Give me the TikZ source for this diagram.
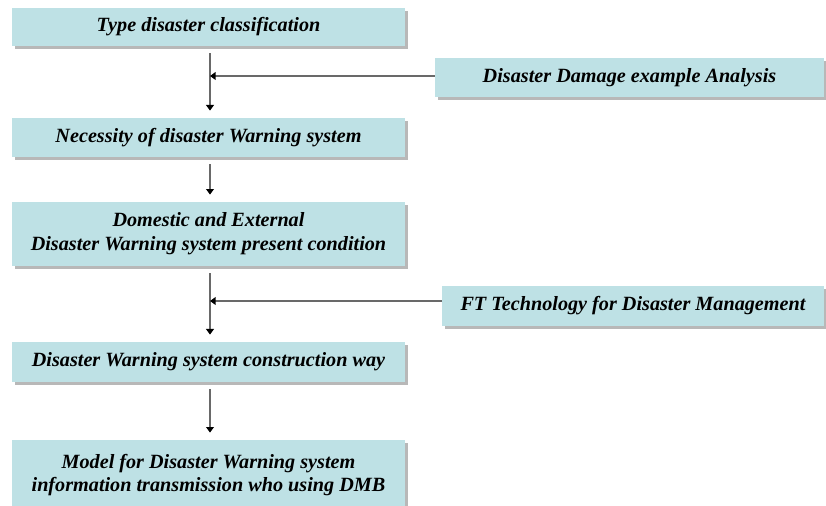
\documentclass[tikz,border=0pt]{standalone}
\usepackage{fontspec}
\setmainfont{Liberation Serif}
\usetikzlibrary{arrows.meta}
\usetikzlibrary{shadows}
\definecolor{boxfill}{RGB}{190,225,229}
\definecolor{linegray}{RGB}{105,105,105}

\begin{document}
\begin{tikzpicture}[x=0.02cm,y=-0.02cm,
                stepbox/.style={rectangle,fill=boxfill,inner sep=0pt,align=center,
                    font=\fontsize{11.5}{13.5}\selectfont\bfseries\itshape,
                    drop shadow={shadow xshift=1.8pt,shadow yshift=-1.8pt,fill=black!28,opacity=1}},
                link/.style={line width=1.1pt,linegray,-{Triangle[length=3.2pt,width=4.4pt,black]}}
                ]
            \useasboundingbox (0,0) rectangle (826,506);
            \clip (0,0) rectangle (826,506);

            \node[stepbox,minimum width=7.86cm,minimum height=0.76cm] (type) at (208.5,27) {Type disaster classification};
            \node[stepbox,minimum width=7.78cm,minimum height=0.78cm] (damage) at (629.5,77.5) {Disaster Damage example Analysis};
            \node[stepbox,minimum width=7.86cm,minimum height=0.78cm] (need) at (208.5,137.5) {Necessity of disaster Warning system};
            \node[stepbox,minimum width=7.86cm,minimum height=1.28cm] (present) at (208.5,234) {Domestic and External\\Disaster Warning system present condition};
            \node[stepbox,minimum width=7.64cm,minimum height=0.80cm] (ft) at (633,306) {FT Technology for Disaster Management};
            \node[stepbox,minimum width=7.86cm,minimum height=0.80cm] (way) at (208.5,362) {Disaster Warning system construction way};
            \node[stepbox,minimum width=7.86cm,minimum height=1.40cm] (model) at (208.5,475) {Model for Disaster Warning system\\information transmission who using DMB};

            \coordinate (j1) at (210,76);
            \coordinate (j2) at (210,301);

            \draw[link,shorten <=4pt,shorten >=4pt] (type.south -| 210,0) to (need.north -| 210,0);
            \draw[link,shorten <=4pt,shorten >=4pt] (need.south -| 210,0) to (present.north -| 210,0);
            \draw[link,shorten <=4pt,shorten >=4pt] (present.south -| 210,0) to (way.north -| 210,0);
            \draw[link,shorten <=4pt,shorten >=4pt] (way.south -| 210,0) to (model.north -| 210,0);

            \draw[link] (damage.west |- j1) to (j1);
            \draw[link] (ft.west |- j2) to (j2);

            \end{tikzpicture}
\end{document}
